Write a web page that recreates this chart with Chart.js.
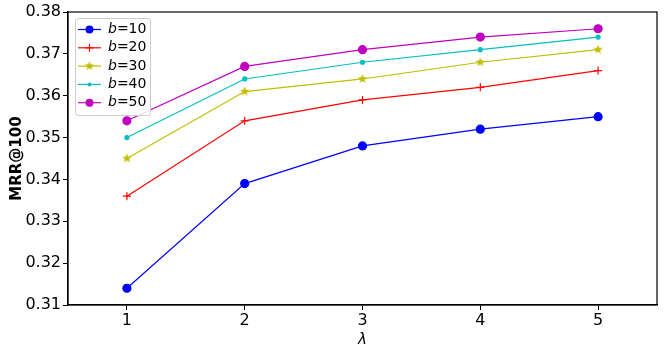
<!DOCTYPE html>
<html><head><meta charset="utf-8">
<script src="https://cdn.jsdelivr.net/npm/chart.js@4.4.0/dist/chart.umd.min.js"></script>
<style>html,body{margin:0;padding:0;background:#fff}#w{width:665px;height:355px}</style>
</head><body><div id="w"><canvas id="c" width="665" height="355"></canvas></div>
<script>
const lambdas = [1, 2, 3, 4, 5];
const xTicks = [1, 2, 3, 4, 5];
const yTicks = [0.31, 0.32, 0.33, 0.34, 0.35, 0.36, 0.37, 0.38];
const seriesNames = ['10', '20', '30', '40', '50'];
const b10 = [0.314, 0.339, 0.348, 0.352, 0.355];
const b20 = [0.336, 0.354, 0.359, 0.362, 0.366];
const b30 = [0.345, 0.361, 0.364, 0.368, 0.371];
const b40 = [0.350, 0.364, 0.368, 0.371, 0.374];
const b50 = [0.354, 0.367, 0.371, 0.374, 0.376];

const FONT = 'DejaVu Sans';
function starCanvas(color, r) {
  const s = Math.ceil(r * 2 + 2), c = document.createElement('canvas');
  c.width = s; c.height = s;
  const g = c.getContext('2d');
  g.fillStyle = color; g.beginPath();
  for (let i = 0; i < 10; i++) {
    const rr = i % 2 ? r * 0.42 : r;
    const a = -Math.PI / 2 + i * Math.PI / 5;
    const x = s / 2 + rr * Math.cos(a), y = s / 2 + rr * Math.sin(a);
    i ? g.lineTo(x, y) : g.moveTo(x, y);
  }
  g.closePath(); g.fill();
  return c;
}
const colors = ['#0000ff', '#ff0000', '#bfbf00', '#00bfbf', '#bf00bf'];
const star = starCanvas(colors[2], 5);
const styles = [
  {pointStyle: 'circle', radius: 4},
  {pointStyle: 'cross', radius: 4},
  {pointStyle: star, radius: 5},
  {pointStyle: 'circle', radius: 2},
  {pointStyle: 'circle', radius: 4}
];
const vals = [b10, b20, b30, b40, b50];
const datasets = vals.map((v, i) => ({
  label: 'b=' + seriesNames[i],
  data: lambdas.map((x, j) => ({x: x, y: v[j]})),
  borderColor: colors[i], backgroundColor: colors[i],
  borderWidth: 1.2, pointStyle: styles[i].pointStyle,
  pointRadius: styles[i].radius, pointHoverRadius: styles[i].radius,
  pointBorderWidth: 1.2, tension: 0, fill: false
}));

const framePlugin = {
  id: 'frame',
  afterDraw(chart) {
    const {ctx, chartArea: a} = chart;
    ctx.save();
    ctx.strokeStyle = '#000'; ctx.lineWidth = 1.2;
    ctx.strokeRect(a.left, a.top, a.right - a.left, a.bottom - a.top);
    // legend
    const bx = 75, by = 18, bw = 75, bh = 97;
    ctx.fillStyle = 'rgba(255,255,255,0.85)';
    ctx.strokeStyle = '#cccccc'; ctx.lineWidth = 1;
    ctx.beginPath();
    if (ctx.roundRect) ctx.roundRect(bx + 0.5, by + 0.5, bw, bh, 3); else ctx.rect(bx + 0.5, by + 0.5, bw, bh);
    ctx.fill(); ctx.stroke();
    datasets.forEach((d, i) => {
      const y = 29.5 + i * 18.3;
      ctx.strokeStyle = d.borderColor; ctx.lineWidth = 1.2;
      ctx.beginPath(); ctx.moveTo(78, y); ctx.lineTo(101, y); ctx.stroke();
      const cx = 89.5;
      ctx.fillStyle = d.borderColor;
      const ps = d.pointStyle, r = d.pointRadius;
      if (ps === 'circle') { ctx.beginPath(); ctx.arc(cx, y, r, 0, Math.PI * 2); ctx.fill(); }
      else if (ps === 'cross') { ctx.beginPath(); ctx.moveTo(cx - r, y); ctx.lineTo(cx + r, y); ctx.moveTo(cx, y - r); ctx.lineTo(cx, y + r); ctx.stroke(); }
      else { ctx.drawImage(ps, cx - ps.width / 2, y - ps.height / 2); }
      ctx.fillStyle = '#000'; ctx.textBaseline = 'middle'; ctx.textAlign = 'left';
      ctx.font = 'italic 14px "' + FONT + '"';
      ctx.fillText('b', 108, y);
      const w = ctx.measureText('b').width;
      ctx.font = '14px "' + FONT + '"';
      ctx.fillText('=' + seriesNames[i], 108 + w, y);
    });
    ctx.restore();
  }
};

new Chart(document.getElementById('c'), {
  type: 'line',
  data: {datasets},
  options: {
    responsive: false, animation: false, devicePixelRatio: 1,
    layout: {padding: {left: 0, right: 8, top: 12, bottom: 0}},
    plugins: {legend: {display: false}, tooltip: {enabled: false}},
    scales: {
      x: {
        type: 'linear', min: 0.5, max: 5.5,
        afterBuildTicks: s => { s.ticks = xTicks.map(v => ({value: v})); },
        afterFit: s => { s.height = 50; },
        ticks: {color: '#000', font: {family: FONT, size: 16}, padding: 1, maxRotation: 0,
                callback: v => String(v)},
        grid: {drawOnChartArea: false, drawTicks: true, tickLength: 5, tickColor: '#000', tickWidth: 1},
        border: {display: true, color: '#000', width: 1.2},
        title: {display: true, text: 'λ', color: '#000', font: {family: FONT, size: 15, style: 'italic'}, padding: {top: 0, bottom: 6}}
      },
      y: {
        type: 'linear', min: 0.31, max: 0.38,
        afterBuildTicks: s => { s.ticks = yTicks.map(v => ({value: v})); },
        afterFit: s => { s.width = 68; },
        ticks: {color: '#000', font: {family: FONT, size: 16}, padding: 2,
                callback: v => Number(v).toFixed(2)},
        grid: {drawOnChartArea: false, drawTicks: true, tickLength: 5, tickColor: '#000', tickWidth: 1},
        border: {display: true, color: '#000', width: 1.2},
        title: {display: true, text: 'MRR@100', color: '#000', font: {family: FONT, size: 15, weight: 'bold'}, padding: {top: 8, bottom: 0}}
      }
    }
  },
  plugins: [framePlugin]
});
</script>
</body></html>
